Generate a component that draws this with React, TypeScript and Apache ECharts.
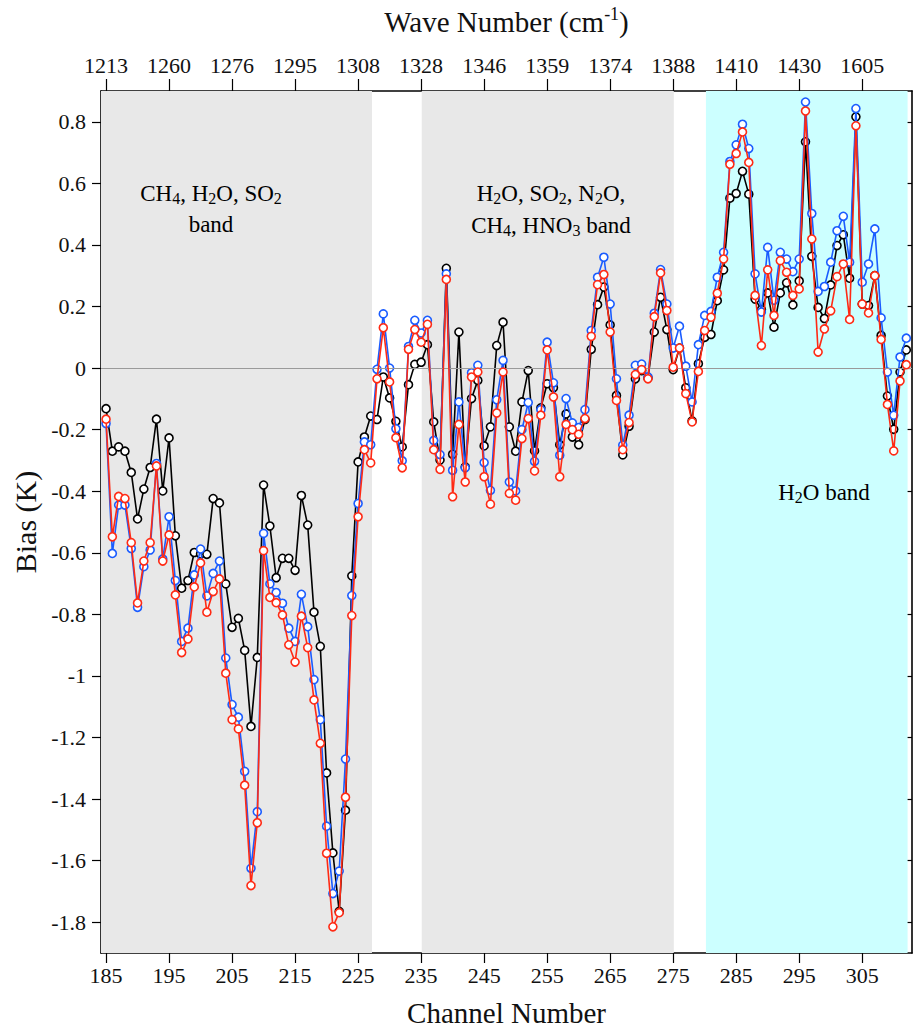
import React, { useEffect, useRef } from "react";
import * as echarts from "echarts";

const FIRST_CHANNEL = 185;

const blackBias = [
  -0.132, -0.27, -0.256, -0.27, -0.339, -0.49, -0.393, -0.323, -0.166, -0.399,
  -0.227, -0.545, -0.715, -0.69, -0.599, -0.604, -0.605, -0.424, -0.438, -0.701,
  -0.842, -0.813, -0.917, -1.164, -0.94, -0.38, -0.513, -0.681, -0.618, -0.618,
  -0.657, -0.414, -0.51, -0.793, -0.904, -1.315, -1.575, -1.765, -1.436, -0.675,
  -0.305, -0.224, -0.156, -0.167, -0.029, -0.097, -0.173, -0.256, -0.054, 0.012,
  0.019, 0.076, -0.175, -0.299, 0.324, -0.28, 0.117, -0.321, -0.099, -0.04,
  -0.253, -0.191, 0.073, 0.149, -0.191, -0.27, -0.11, -0.008, -0.269, -0.129,
  -0.051, -0.064, -0.249, -0.149, -0.224, -0.249, -0.167, 0.061, 0.206, 0.263,
  0.14, -0.089, -0.282, -0.189, -0.035, -0.008, -0.032, 0.117, 0.23, 0.125,
  -0.005, 0.065, -0.064, -0.172, 0.014, 0.1, 0.109, 0.219, 0.319, 0.552,
  0.567, 0.639, 0.565, 0.224, 0.19, 0.244, 0.133, 0.244, 0.277, 0.205,
  0.283, 0.735, 0.363, 0.197, 0.161, 0.27, 0.398, 0.433, 0.292, 0.816,
  0.208, 0.203, 0.3, 0.106, -0.091, -0.199, -0.013, 0.059,
];

const blueBias = [
  -0.18, -0.602, -0.445, -0.445, -0.586, -0.777, -0.645, -0.591, -0.31, -0.62,
  -0.483, -0.69, -0.888, -0.845, -0.672, -0.588, -0.74, -0.667, -0.627, -0.942,
  -1.093, -1.134, -1.31, -1.625, -1.441, -0.537, -0.701, -0.729, -0.764, -0.845,
  -0.888, -0.735, -0.84, -1.012, -1.142, -1.488, -1.707, -1.634, -1.27, -0.739,
  -0.44, -0.24, -0.249, -0.004, 0.176, 0.0, -0.197, -0.301, 0.07, 0.155,
  0.114, 0.155, -0.235, -0.281, 0.306, -0.332, -0.11, -0.324, -0.015, 0.009,
  -0.307, -0.397, -0.103, 0.025, -0.37, -0.399, -0.2, -0.112, -0.303, -0.135,
  0.084, -0.048, -0.283, -0.099, -0.178, -0.193, -0.135, 0.122, 0.295, 0.36,
  0.208, -0.035, -0.25, -0.153, 0.009, 0.013, -0.029, 0.178, 0.32, 0.208,
  0.065, 0.136, 0.006, -0.11, 0.076, 0.171, 0.184, 0.295, 0.376, 0.671,
  0.725, 0.792, 0.713, 0.306, 0.182, 0.392, 0.22, 0.376, 0.354, 0.313,
  0.354, 0.864, 0.502, 0.249, 0.265, 0.344, 0.446, 0.493, 0.344, 0.843,
  0.279, 0.338, 0.452, 0.163, -0.013, -0.153, 0.036, 0.097,
];

const redBias = [
  -0.166, -0.548, -0.417, -0.424, -0.567, -0.763, -0.627, -0.567, -0.318, -0.627,
  -0.542, -0.737, -0.924, -0.88, -0.711, -0.633, -0.793, -0.726, -0.685, -0.991,
  -1.142, -1.172, -1.355, -1.681, -1.477, -0.593, -0.745, -0.762, -0.802, -0.899,
  -0.955, -0.806, -0.908, -1.078, -1.219, -1.576, -1.815, -1.769, -1.394, -0.804,
  -0.483, -0.265, -0.308, -0.035, 0.131, -0.045, -0.226, -0.324, 0.061, 0.125,
  0.084, 0.142, -0.265, -0.329, 0.288, -0.418, -0.183, -0.37, -0.029, -0.013,
  -0.353, -0.442, -0.146, -0.013, -0.407, -0.429, -0.229, -0.164, -0.334, -0.153,
  0.059, -0.094, -0.353, -0.183, -0.2, -0.215, -0.164, 0.103, 0.271, 0.304,
  0.117, -0.105, -0.265, -0.177, -0.021, -0.005, -0.035, 0.167, 0.309, 0.187,
  0.003, 0.065, -0.083, -0.175, -0.011, 0.122, 0.165, 0.243, 0.354, 0.662,
  0.697, 0.767, 0.668, 0.236, 0.073, 0.319, 0.171, 0.349, 0.311, 0.236,
  0.257, 0.835, 0.419, 0.052, 0.127, 0.186, 0.297, 0.338, 0.158, 0.787,
  0.208, 0.179, 0.3, 0.093, -0.118, -0.269, -0.042, 0.011,
];

const channelTicks = [185, 195, 205, 215, 225, 235, 245, 255, 265, 275, 285, 295, 305];
const waveNumberLabels = ["1213", "1260", "1276", "1295", "1308", "1328", "1346", "1359", "1374", "1388", "1410", "1430", "1605"];
const biasTicks = [-1.8, -1.6, -1.4, -1.2, -1, -0.8, -0.6, -0.4, -0.2, 0, 0.2, 0.4, 0.6, 0.8];

// shaded bands [start channel, end channel, colour]
const bands: [number, number, string][] = [
  [184.2, 227.2, "#e8e8e8"],
  [235.1, 275.1, "#e8e8e8"],
  [280.2, 312.2, "#ccffff"],
];

const FONT = "'Liberation Serif', 'Times New Roman', serif";

function toPairs(vals: number[]) {
  return vals.map((v, i) => [FIRST_CHANNEL + i, v]);
}

function lineSeries(name: string, vals: number[], color: string, z: number) {
  return {
    name,
    type: "line",
    data: toPairs(vals),
    z,
    symbol: "circle",
    symbolSize: 8,
    showSymbol: true,
    lineStyle: { color, width: 1.6 },
    itemStyle: { color: "#ffffff", borderColor: color, borderWidth: 1.6 },
    emphasis: { disabled: true },
  };
}

const richBase = {
  n: { fontSize: 23, fontFamily: FONT, color: "#111", lineHeight: 27 },
  s: { fontSize: 16, fontFamily: FONT, color: "#111", verticalAlign: "bottom", lineHeight: 27 },
};

function note(x: number, y: number, text: string) {
  return {
    type: "text",
    x,
    y,
    z: 100,
    style: {
      text,
      rich: richBase,
      align: "center",
      verticalAlign: "middle",
    },
  };
}

export default function App() {
  const ref = useRef<HTMLDivElement>(null);
  useEffect(() => {
    if (!ref.current) return;
    const chart = echarts.init(ref.current, null, { renderer: "svg" });
    const xMin = 184.2;
    const xMax = 312.9;
    const axisLineStyle = { color: "#000", width: 1.6 };
    chart.setOption({
      animation: false,
      backgroundColor: "#ffffff",
      grid: { left: 101, right: 4, top: 88, bottom: 79, containLabel: false },
      xAxis: [
        {
          type: "value",
          position: "bottom",
          min: xMin,
          max: xMax,
          splitLine: { show: false },
          axisLine: { show: true, onZero: false, lineStyle: axisLineStyle },
          axisTick: { show: true, inside: false, length: 10, customValues: channelTicks, lineStyle: { color: "#000", width: 1.2 } },
          axisLabel: {
            customValues: channelTicks,
            margin: 11,
            fontFamily: FONT,
            fontSize: 22,
            color: "#111",
            formatter: (v: number) => String(Math.round(v)),
          },
          name: "Channel Number",
          nameLocation: "middle",
          nameGap: 45,
          nameTextStyle: { fontFamily: FONT, fontSize: 29, color: "#111" },
        },
        {
          type: "value",
          position: "top",
          min: xMin,
          max: xMax,
          splitLine: { show: false },
          axisLine: { show: true, onZero: false, lineStyle: axisLineStyle },
          axisTick: { show: true, inside: false, length: 12, customValues: channelTicks, lineStyle: { color: "#000", width: 1.2 } },
          axisLabel: {
            customValues: channelTicks,
            margin: 15,
            fontFamily: FONT,
            fontSize: 22,
            color: "#111",
            formatter: (v: number) => {
              const i = channelTicks.indexOf(Math.round(v));
              return i >= 0 ? waveNumberLabels[i] : "";
            },
          },
          name: "{n|Wave Number (cm}{sup|-1}{n|)}",
          nameLocation: "middle",
          nameGap: 53,
          nameTextStyle: {
            rich: {
              n: { fontFamily: FONT, fontSize: 29, color: "#111", lineHeight: 33 },
              sup: { fontFamily: FONT, fontSize: 18, color: "#111", verticalAlign: "top", lineHeight: 33 },
            },
          },
        },
      ],
      yAxis: [
        {
          type: "value",
          position: "left",
          min: -1.9,
          max: 0.9,
          splitLine: { show: false },
          axisLine: { show: true, onZero: false, lineStyle: axisLineStyle },
          axisTick: { show: true, inside: false, length: 9, customValues: biasTicks, lineStyle: { color: "#000", width: 1.2 } },
          axisLabel: {
            customValues: biasTicks,
            margin: 15,
            fontFamily: FONT,
            fontSize: 22,
            color: "#111",
            formatter: (v: number) => String(parseFloat(v.toFixed(1))),
          },
          name: "Bias (K)",
          nameLocation: "middle",
          nameGap: 61,
          nameRotate: 90,
          nameTextStyle: { fontFamily: FONT, fontSize: 30, color: "#111" },
        },
        {
          type: "value",
          position: "right",
          min: -1.9,
          max: 0.9,
          splitLine: { show: false },
          axisLine: { show: true, onZero: false, lineStyle: axisLineStyle },
          axisTick: { show: true, inside: true, length: 7, customValues: biasTicks, lineStyle: { color: "#000", width: 1.2 } },
          axisLabel: { show: false },
        },
      ],
      series: [
        {
          name: "bands",
          type: "line",
          data: [],
          z: 1,
          silent: true,
          markArea: {
            silent: true,
            data: bands.map(([a, b, c]) => [
              { xAxis: a, itemStyle: { color: c, opacity: 1 } },
              { xAxis: b },
            ]),
          },
          markLine: {
            silent: true,
            symbol: ["none", "none"],
            label: { show: false },
            lineStyle: { color: "#9a9a9a", width: 1, type: "solid" },
            data: [{ yAxis: 0 }],
          },
        },
        lineSeries("black", blackBias, "#000000", 3),
        lineSeries("blue", blueBias, "#1a5cff", 4),
        lineSeries("red", redBias, "#ff2a14", 5),
      ],
      graphic: [
        note(211, 193, "{n|CH}{s|4}{n|, H}{s|2}{n|O, SO}{s|2}"),
        note(211, 224, "{n|band}"),
        note(551, 193, "{n|H}{s|2}{n|O, SO}{s|2}{n|, N}{s|2}{n|O,}"),
        note(551, 225, "{n|CH}{s|4}{n|, HNO}{s|3}{n| band}"),
        note(824, 492, "{n|H}{s|2}{n|O band}"),
      ],
    });
    return () => chart.dispose();
  }, []);
  return (
    <div
      ref={ref}
      style={{ position: "fixed", left: 0, top: 0, width: 916, height: 1032, background: "#fff" }}
    />
  );
}
